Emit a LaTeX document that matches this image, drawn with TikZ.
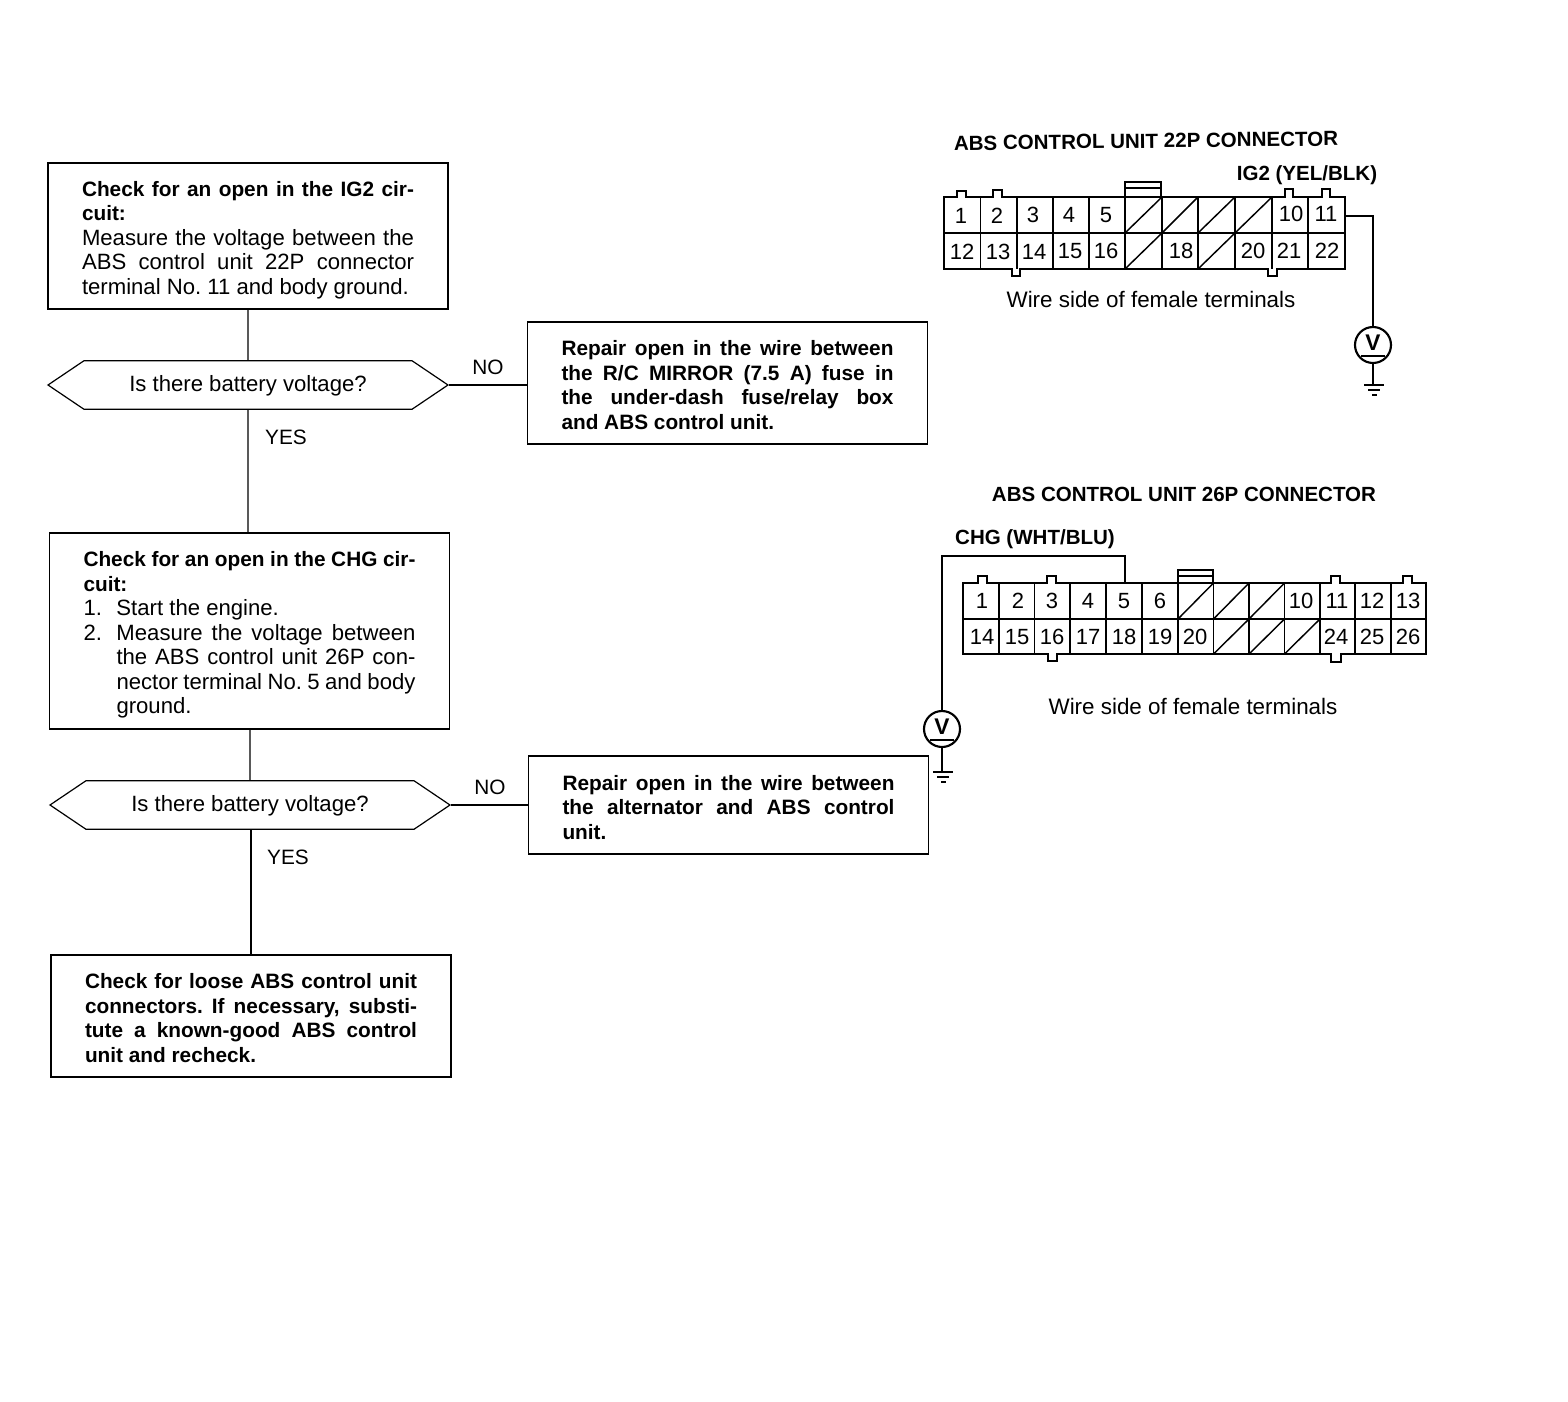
\documentclass[tikz,border=0pt]{standalone}
\usepackage{fontspec}
\setmainfont{Liberation Sans}
\frenchspacing
\usetikzlibrary{shapes.symbols}
\newcommand{\boldpart}[1]{{\fontsize{15.6}{18.4}\selectfont\bfseries #1}}
\tikzset{
  flowbox/.style={draw,line width=0.9pt,inner xsep=25.5pt,inner ysep=0pt,text width=249pt,minimum width=300pt,align=justify,font=\fontsize{16.6}{18.4}\selectfont},
  boldbox/.style={flowbox,font=\fontsize{15.6}{18.4}\selectfont\bfseries},
  askbox/.style={draw,line width=0.9pt,signal,signal from=nowhere,signal to=west and east,signal pointer angle=68,minimum width=300pt,minimum height=36.5pt,inner sep=0pt,font=\fontsize{16.6}{18.4}\selectfont},
  flowline/.style={line width=0.9pt},
  plaintext/.style={inner sep=0.75pt,font=\fontsize{15.6}{18.4}\selectfont},
  sidetext/.style={inner sep=0.75pt,font=\fontsize{16.8}{18.4}\selectfont},
  headtext/.style={inner sep=0.75pt,font=\fontsize{15.4}{18.4}\selectfont\bfseries},
  pinnum/.style={inner sep=0pt,font=\fontsize{16.5}{18}\selectfont},
  meter/.style={draw,circle,line width=1.6pt,minimum size=27pt,inner sep=0pt},
  shell/.style={line width=2pt},
  cell/.style={line width=1.1pt},
  wire/.style={line width=1.2pt}
}
\begin{document}
\begin{tikzpicture}[x=0.75pt,y=0.75pt,yscale=-1,xscale=1]
\useasboundingbox (0,0) rectangle (1568,1402);

% Flow chart
\draw (248,236) node [flowbox,minimum height=109.5pt] (chkig) {\rule{0pt}{17.5pt}\boldpart{Check for an open in the IG2 cir-\linebreak cuit:}\\Measure the voltage between the\linebreak ABS control unit 22P connector\linebreak terminal No. 11 and body ground.};
\draw (248,385) node [askbox] (askig) {\smash{\raisebox{-4.5pt}{Is there battery voltage?}}};
\draw (727.5,383) node [boldbox,minimum height=91.5pt] (fixig) {\rule{0pt}{14.5pt}Repair open in the wire between\linebreak the R/C MIRROR (7.5 A) fuse in\linebreak the under-dash fuse/relay box\linebreak and ABS control unit.};
\draw (249.5,631) node [flowbox,minimum height=147pt] (chkchg) {\rule{0pt}{17.5pt}\boldpart{Check for an open in the CHG cir-\linebreak cuit:}\par\makebox[24.75pt][l]{1.}Start the engine.\par\hangindent=24.75pt\hangafter=1\makebox[24.75pt][l]{2.}Measure the voltage between\linebreak the ABS control unit 26P con-\linebreak nector terminal No. 5 and body\linebreak ground.\par};
\draw (250,805) node [askbox] (askchg) {\smash{\raisebox{-4.5pt}{Is there battery voltage?}}};
\draw (728.5,805) node [boldbox,minimum height=73.5pt] (fixchg) {\rule{0pt}{14.5pt}Repair open in the wire between\linebreak the alternator and ABS control\linebreak unit.};
\draw (251,1016) node [boldbox,minimum height=91.5pt] (chkconn) {\rule{0pt}{14.5pt}Check for loose ABS control unit\linebreak connectors. If necessary, substi-\linebreak tute a known-good ABS control\linebreak unit and recheck.};

\draw [flowline] (chkig) -- (askig);
\draw [flowline] (askig) -- (askig |- chkchg.north);
\draw [flowline] (askig) -- (askig -| fixig.west);
\draw [flowline] (askchg |- chkchg.south) -- (askchg);
\draw [flowline] (askchg.south -| chkconn) -- (chkconn);
\draw [flowline] (askchg) -- (fixchg);

% Text Node
\draw (488,367) node [plaintext] (noig) {NO};
\draw (286,437) node [plaintext] (yesig) {YES};
\draw (490,787) node [plaintext] (nochg) {NO};
\draw (288,857) node [plaintext] (yeschg) {YES};

% 22P connector
\draw (1146,141) node [headtext,rotate=0.7] (titleig) {ABS CONTROL UNIT 22P CONNECTOR};
\draw (1307,175) node [headtext] (wireig) {IG2 (YEL/BLK)};
\draw (1151,299) node [sidetext] (sideig) {Wire side of female terminals};

\draw [cell] (944,233) -- (1345,233);
\draw [cell] (980.5,197) -- (980.5,269);
\draw [cell] (1017,197) -- (1017,269);
\draw [cell] (1053,197) -- (1053,269);
\draw [cell] (1089,197) -- (1089,269);
\draw [cell] (1125,197) -- (1125,269);
\draw [cell] (1162,197) -- (1162,269);
\draw [cell] (1198,197) -- (1198,269);
\draw [cell] (1235,197) -- (1235,269);
\draw [cell] (1272,197) -- (1272,269);
\draw [cell] (1308,197) -- (1308,269);
\draw [cell] (1125,233) -- (1162,197);
\draw [cell] (1162,233) -- (1198,197);
\draw [cell] (1198,233) -- (1235,197);
\draw [cell] (1235,233) -- (1272,197);
\draw [cell] (1125,269) -- (1162,233);
\draw [cell] (1198,269) -- (1235,233);
\draw [shell] (944,197) -- (957,197) -- (957,191) -- (966,191) -- (966,197) -- (993,197) -- (993,190) -- (1002,190) -- (1002,197) -- (1285,197) -- (1285,189) -- (1293,189) -- (1293,197) -- (1322,197) -- (1322,189) -- (1330,189) -- (1330,197) -- (1345,197) -- (1345,269) -- (1277,269) -- (1277,276) -- (1268,276) -- (1268,269) -- (1020,269) -- (1020,276) -- (1012,276) -- (1012,269) -- (944,269) -- cycle;
\draw [line width=1.5pt] (1125,197) -- (1125,182) -- (1161,182) -- (1161,197);
\draw [cell] (1125,188) -- (1161,188);

\draw (961,216) node [pinnum] (ig1) {1};
\draw (997,216) node [pinnum] (ig2) {2};
\draw (1033,215) node [pinnum] (ig3) {3};
\draw (1069,215) node [pinnum] (ig4) {4};
\draw (1106,215) node [pinnum] (ig5) {5};
\draw (1291,214) node [pinnum] (ig10) {10};
\draw (1326,214) node [pinnum] (ig11) {11};
\draw (962,252) node [pinnum] (ig12) {12};
\draw (998,252) node [pinnum] (ig13) {13};
\draw (1034,252) node [pinnum] (ig14) {14};
\draw (1070,251) node [pinnum] (ig15) {15};
\draw (1106,251) node [pinnum] (ig16) {16};
\draw (1181,251) node [pinnum] (ig18) {18};
\draw (1253,251) node [pinnum] (ig20) {20};
\draw (1289,251) node [pinnum] (ig21) {21};
\draw (1327,251) node [pinnum] (ig22) {22};

\draw (1373,345) node [meter] (vmig) {};
\draw (1373,343) node [inner sep=0pt,font=\fontsize{17}{18}\selectfont\bfseries] (vig) {V};
\coordinate (gndig) at (1373,385);
\draw [line width=1.4pt] (1361,356) -- (1385,356);
\draw [wire] (1345,216) -- (1373,216) -- (vmig);
\draw [wire] (vmig) -- (gndig);
\draw [wire] (1364,385) -- (1384,385);
\draw [wire] (1368,390) -- (1380,390);
\draw [wire] (1372,395) -- (1377,395);

% 26P connector
\draw (1184,494) node [headtext] (titlechg) {ABS CONTROL UNIT 26P CONNECTOR};
\draw (1035,539) node [headtext] (wirechg) {CHG (WHT/BLU)};
\draw (1193,706) node [sidetext] (sidechg) {Wire side of female terminals};

\draw [cell] (963,619) -- (1426,619);
\draw [cell] (999,583) -- (999,654);
\draw [cell] (1034.5,583) -- (1034.5,654);
\draw [cell] (1070,583) -- (1070,654);
\draw [cell] (1106,583) -- (1106,654);
\draw [cell] (1142,583) -- (1142,654);
\draw [cell] (1178,583) -- (1178,654);
\draw [cell] (1213.5,583) -- (1213.5,654);
\draw [cell] (1249,583) -- (1249,654);
\draw [cell] (1284.5,583) -- (1284.5,654);
\draw [cell] (1320,583) -- (1320,654);
\draw [cell] (1355,583) -- (1355,654);
\draw [cell] (1391,583) -- (1391,654);
\draw [cell] (1178,619) -- (1213.5,583);
\draw [cell] (1213.5,619) -- (1249,583);
\draw [cell] (1249,619) -- (1284.5,583);
\draw [cell] (1213.5,654) -- (1249,619);
\draw [cell] (1249,654) -- (1284.5,619);
\draw [cell] (1284.5,654) -- (1320,619);
\draw [shell] (963,583) -- (978,583) -- (978,576) -- (987,576) -- (987,583) -- (1047,583) -- (1047,576) -- (1056,576) -- (1056,583) -- (1331,583) -- (1331,576) -- (1340,576) -- (1340,583) -- (1403,583) -- (1403,576) -- (1412,576) -- (1412,583) -- (1426,583) -- (1426,654) -- (1341,654) -- (1341,662) -- (1331,662) -- (1331,654) -- (1057,654) -- (1057,661) -- (1048,661) -- (1048,654) -- (963,654) -- cycle;
\draw [line width=1.5pt] (1178,583) -- (1178,570) -- (1213,570) -- (1213,583);
\draw [cell] (1178,576) -- (1213,576);

\draw (982,601) node [pinnum] (chg1) {1};
\draw (1018,601) node [pinnum] (chg2) {2};
\draw (1052,601) node [pinnum] (chg3) {3};
\draw (1088,601) node [pinnum] (chg4) {4};
\draw (1124,601) node [pinnum] (chg5) {5};
\draw (1160,601) node [pinnum] (chg6) {6};
\draw (1301,601) node [pinnum] (chg10) {10};
\draw (1337,601) node [pinnum] (chg11) {11};
\draw (1372,601) node [pinnum] (chg12) {12};
\draw (1408,601) node [pinnum] (chg13) {13};
\draw (982,637) node [pinnum] (chg14) {14};
\draw (1017,637) node [pinnum] (chg15) {15};
\draw (1052,637) node [pinnum] (chg16) {16};
\draw (1088,637) node [pinnum] (chg17) {17};
\draw (1124,637) node [pinnum] (chg18) {18};
\draw (1160,637) node [pinnum] (chg19) {19};
\draw (1195,637) node [pinnum] (chg20) {20};
\draw (1336,637) node [pinnum] (chg24) {24};
\draw (1372,637) node [pinnum] (chg25) {25};
\draw (1408,637) node [pinnum] (chg26) {26};

\draw (942,729) node [meter] (vmchg) {};
\draw (942,727) node [inner sep=0pt,font=\fontsize{17}{18}\selectfont\bfseries] (vchg) {V};
\coordinate (gndchg) at (942,772);
\draw [line width=1.4pt] (930,740) -- (954,740);
\draw [wire] (1125,583) -- (1125,556) -- (942,556) -- (vmchg);
\draw [wire] (vmchg) -- (gndchg);
\draw [wire] (933,772) -- (953,772);
\draw [wire] (937,777) -- (949,777);
\draw [wire] (941,782) -- (946,782);

\end{tikzpicture}
\end{document}
